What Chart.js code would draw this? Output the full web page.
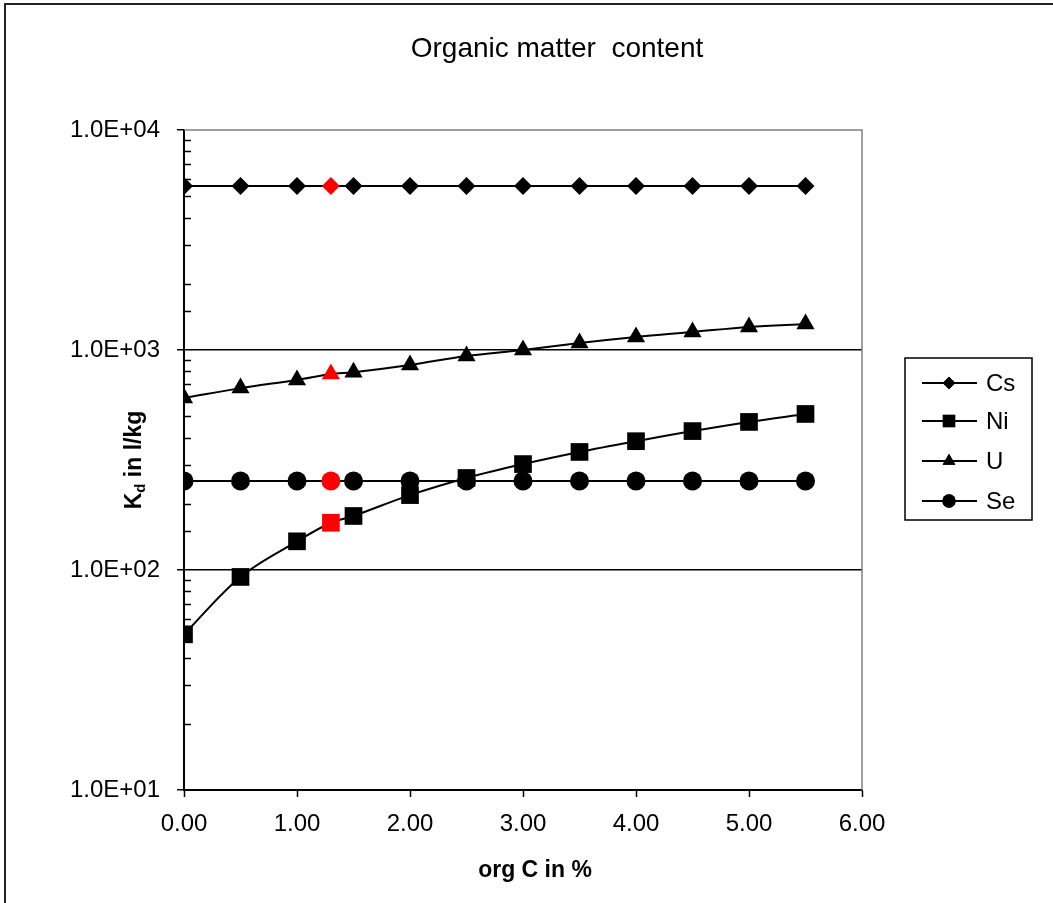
<!DOCTYPE html>
<html>
<head>
<meta charset="utf-8">
<script src="https://cdn.jsdelivr.net/npm/chart.js@4.4.0/dist/chart.umd.min.js"></script>
<style>
  html, body { margin: 0; padding: 0; background: #fff; }
  #wrap { width: 1053px; height: 903px; }
</style>
</head>
<body>
<div id="wrap"><canvas id="graficoKd" width="1053" height="903"></canvas></div>
<script>
// --- data ---
const orgC = [0, 0.5, 1.0, 1.3, 1.5, 2.0, 2.5, 3.0, 3.5, 4.0, 4.5, 5.0, 5.5];
const kdCs = [5560, 5560, 5560, 5560, 5560, 5560, 5560, 5560, 5560, 5560, 5560, 5560, 5560];
const kdNi = [51, 93, 135, 164, 176, 219, 262, 303, 344, 385, 428, 471, 512];
const kdU  = [605, 671, 731, 778, 792, 855, 939, 1000, 1076, 1146, 1207, 1273, 1313];
const kdSe = [254, 254, 254, 254, 254, 254, 254, 254, 254, 254, 254, 254, 254];
const highlightC = 1.3;
const yMajorTicks = [10, 100, 1000, 10000];
const xTicks = [0, 1, 2, 3, 4, 5, 6];

const FONT = "'Liberation Sans', Arial, sans-serif";

const toPoints = (ys) => orgC.map((x, i) => ({ x: x, y: ys[i] }));
const markColors = orgC.map(x => x === highlightC ? '#ff0000' : '#000000');

const fmtSci = (v) => {
    const e = Math.round(Math.log10(v));
    const m = v / Math.pow(10, e);
    return m.toFixed(1) + 'E' + (e < 0 ? '-' : '+') + String(Math.abs(e)).padStart(2, '0');
};
const isMajor = (v) => yMajorTicks.some(t => Math.abs(t - v) < 1e-6);

const makeSet = (label, ys, style, radius) => ({
    label: label,
    data: toPoints(ys),
    borderColor: '#000',
    borderWidth: 2,
    tension: 0.35,
    pointStyle: style,
    pointRadius: radius,
    pointHoverRadius: radius,
    pointBackgroundColor: markColors,
    pointBorderColor: markColors,
    pointBorderWidth: 0,
    legendRadius: radius * 0.7
});

// frame, titles, plot border, minor ticks, legend
const decor = {
    id: 'decor',
    beforeDraw(chart) {
        const ctx = chart.ctx;
        ctx.save();
        ctx.fillStyle = '#fff';
        ctx.fillRect(0, 0, chart.width, chart.height);
        ctx.restore();
    },
    afterDraw(chart) {
        const ctx = chart.ctx;
        const a = chart.chartArea;
        const ys = chart.scales.y;
        ctx.save();

        // outer frame
        ctx.strokeStyle = '#222';
        ctx.lineWidth = 2;
        ctx.strokeRect(5, 4, chart.width + 20, chart.height + 20);

        // top / right plot border (grey)
        ctx.strokeStyle = '#808080';
        ctx.lineWidth = 1.5;
        ctx.beginPath();
        ctx.moveTo(a.left, a.top);
        ctx.lineTo(a.right, a.top);
        ctx.lineTo(a.right, a.bottom);
        ctx.stroke();

        // minor ticks inside the plot
        ctx.strokeStyle = '#000';
        ctx.lineWidth = 1.5;
        ys.ticks.forEach(t => {
            if (isMajor(t.value)) return;
            const py = Math.round(ys.getPixelForValue(t.value)) + 0.5;
            ctx.beginPath();
            ctx.moveTo(a.left, py);
            ctx.lineTo(a.left + 7, py);
            ctx.stroke();
        });

        // title
        ctx.fillStyle = '#000';
        ctx.textAlign = 'center';
        ctx.textBaseline = 'alphabetic';
        ctx.font = '28px ' + FONT;
        ctx.fillText('Organic matter  content', 557, 57);

        // x axis title
        ctx.font = 'bold 23px ' + FONT;
        ctx.fillText('org C in %', 535, 877);

        // y axis title with subscript
        ctx.translate(141, (a.top + a.bottom) / 2);
        ctx.rotate(-Math.PI / 2);
        const big = 'bold 23px ' + FONT, small = 'bold 15px ' + FONT;
        ctx.font = big;
        const wK = ctx.measureText('K').width;
        const wRest = ctx.measureText(' in l/kg').width;
        ctx.font = small;
        const wd = ctx.measureText('d').width;
        let x0 = -(wK + wd + wRest) / 2;
        ctx.textAlign = 'left';
        ctx.font = big;
        ctx.fillText('K', x0, 0);
        ctx.font = small;
        ctx.fillText('d', x0 + wK, 4);
        ctx.font = big;
        ctx.fillText(' in l/kg', x0 + wK + wd, 0);
        ctx.restore();

        // legend
        ctx.save();
        ctx.strokeStyle = '#000';
        ctx.lineWidth = 1.5;
        ctx.strokeRect(905, 358, 127, 162);
        const rows = [383, 421, 461, 501];
        ctx.font = '24px ' + FONT;
        ctx.textBaseline = 'middle';
        ctx.textAlign = 'left';
        chart.data.datasets.forEach((ds, i) => {
            const y = rows[i];
            ctx.strokeStyle = '#000';
            ctx.lineWidth = 2;
            ctx.beginPath();
            ctx.moveTo(922, y);
            ctx.lineTo(977, y);
            ctx.stroke();
            ctx.fillStyle = '#000';
            Chart.helpers.drawPoint(ctx, { pointStyle: ds.pointStyle, radius: ds.legendRadius, borderWidth: 0, rotation: 0 }, 949, y);
            ctx.fill();
            ctx.fillStyle = '#000';
            ctx.fillText(ds.label, 986, y + 1);
        });
        ctx.restore();
    }
};

new Chart(document.getElementById('graficoKd'), {
    type: 'line',
    data: {
        datasets: [
            makeSet('Cs', kdCs, 'rectRot', 9),
            makeSet('Ni', kdNi, 'rect', 12.5),
            makeSet('U', kdU, 'triangle', 10.5),
            makeSet('Se', kdSe, 'circle', 9.5)
        ]
    },
    options: {
        responsive: false,
        animation: false,
        layout: { padding: { left: 0, top: 130, right: 191, bottom: 0 } },
        plugins: {
            legend: { display: false },
            title: { display: false },
            tooltip: { enabled: false }
        },
        scales: {
            x: {
                type: 'linear',
                min: 0,
                max: 6,
                afterBuildTicks: (s) => { s.ticks = xTicks.map(v => ({ value: v })); },
                afterFit: (s) => { s.height = 113; },
                border: { color: '#000', width: 2 },
                grid: { drawOnChartArea: false, tickLength: 7, tickColor: '#000', tickWidth: 1.5 },
                ticks: {
                    color: '#000',
                    font: { family: FONT, size: 24 },
                    padding: 13,
                    maxRotation: 0,
                    callback: (v) => Number(v).toFixed(2)
                }
            },
            y: {
                type: 'logarithmic',
                min: 10,
                max: 10000,
                afterFit: (s) => { s.width = 184; },
                border: { color: '#000', width: 2 },
                grid: {
                    color: (c) => (c.tick && (c.tick.value === 100 || c.tick.value === 1000)) ? '#000' : 'rgba(0,0,0,0)',
                    tickColor: (c) => (c.tick && isMajor(c.tick.value)) ? '#000' : 'rgba(0,0,0,0)',
                    lineWidth: 1.5,
                    tickLength: 7,
                    tickWidth: 1.5
                },
                ticks: {
                    color: '#000',
                    font: { family: FONT, size: 24 },
                    padding: 17,
                    autoSkip: false,
                    callback: (v) => isMajor(v) ? fmtSci(v) : ''
                }
            }
        }
    },
    plugins: [decor]
});
</script>
</body>
</html>
